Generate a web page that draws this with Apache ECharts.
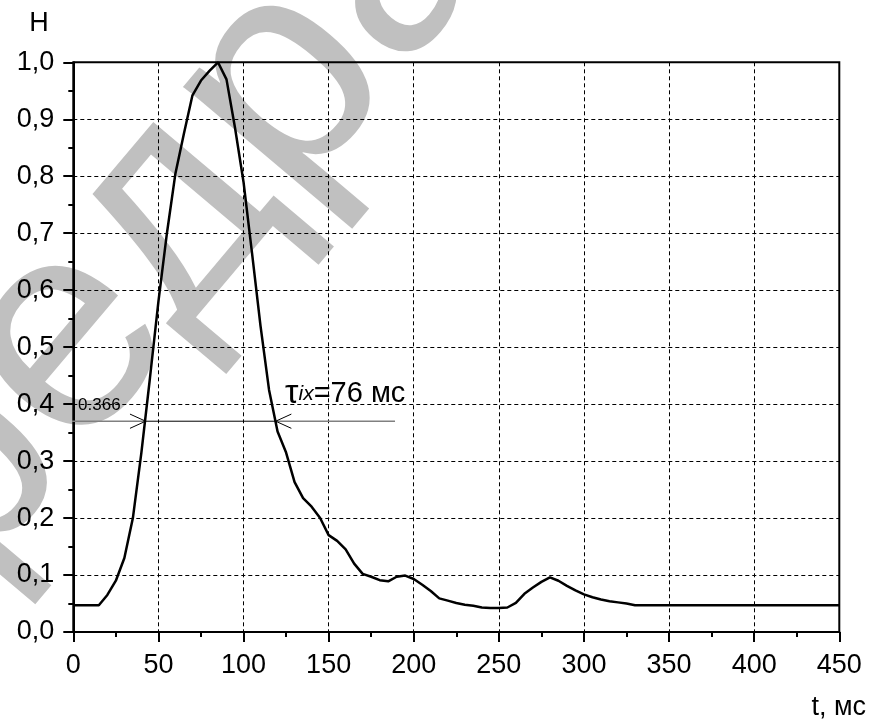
<!DOCTYPE html>
<html><head><meta charset="utf-8">
<script src="https://cdn.jsdelivr.net/npm/echarts@6/dist/echarts.min.js"></script>
<style>html,body{margin:0;padding:0;background:#fff}#c{width:872px;height:722px}</style>
</head><body><div id="c"></div>
<script>
// ---- data ----
const timeMs = [0,5,10,15,20,25,30,35,40,45,50,55,60,65,70,75,80,85,90,95,100,105,110,115,120,125,130,135,140,145,150,155,160,165,170,175,180,185,190,195,200,205,210,215,220,225,230,235,240,245,250,255,260,265,270,275,280,285,290,295,300,305,310,315,320,325,330,450];
const hValues = [0.047,0.047,0.047,0.047,0.065,0.09,0.13,0.20,0.315,0.445,0.58,0.70,0.805,0.875,0.942,0.968,0.985,1.0,0.97,0.885,0.79,0.665,0.537,0.425,0.352,0.315,0.263,0.235,0.22,0.20,0.17,0.16,0.145,0.12,0.102,0.097,0.091,0.089,0.097,0.099,0.093,0.083,0.072,0.059,0.055,0.051,0.048,0.046,0.043,0.042,0.042,0.043,0.051,0.067,0.078,0.088,0.096,0.09,0.081,0.073,0.066,0.061,0.057,0.054,0.052,0.05,0.047,0.047];
const xTickLabels = ['0','50','100','150','200','250','300','350','400','450'];
const yTickLabels = ['0,0','0,1','0,2','0,3','0,4','0,5','0,6','0,7','0,8','0,9','1,0'];
// annotation (width at level 0.366)
const levelLabel = '0.366';
const levelH = 0.37;
const crossT = [42.5, 118.9];
const levelLineT = [-6, 189];
const widthLabel = ['τ', 'ix', '=76 мс'];
const yAxisTitle = 'H';
const xAxisTitle = 't, мс';
const watermark = 'кафедра';

const FONT = '"Liberation Sans", Arial, sans-serif';
const chart = echarts.init(document.getElementById('c'), null, {renderer: 'canvas'});
const curve = timeMs.map((t, i) => [t, hValues[i]]);
const arrowDt = 9.2, arrowDh = 0.0125;

chart.setOption({
  animation: false,
  backgroundColor: '#fff',
  grid: {left: 73.3, right: 32.7, top: 62.3, bottom: 90, show: true, borderColor: '#000', borderWidth: 2, backgroundColor: 'transparent'},
  xAxis: {
    type: 'value', min: 0, max: 450, interval: 50,
    axisLine: {lineStyle: {color: '#000', width: 2}},
    axisTick: {length: 10, lineStyle: {color: '#000', width: 2}},
    minorTick: {show: true, splitNumber: 2, length: 5, lineStyle: {color: '#000', width: 2}},
    splitLine: {show: true, lineStyle: {color: '#000', width: 1, type: [4, 3]}},
    axisLabel: {fontSize: 27, fontFamily: FONT, color: '#000', margin: 20,
      formatter: v => xTickLabels[Math.round(v / 50)]}
  },
  yAxis: {
    type: 'value', min: 0, max: 1, interval: 0.1,
    axisLine: {show: true, lineStyle: {color: '#000', width: 2}},
    axisTick: {show: true, length: 10, lineStyle: {color: '#000', width: 2}},
    minorTick: {show: true, splitNumber: 2, length: 5, lineStyle: {color: '#000', width: 2}},
    splitLine: {show: true, lineStyle: {color: '#000', width: 1, type: [4, 3]}},
    axisLabel: {fontSize: 27, fontFamily: FONT, color: '#000', margin: 19,
      formatter: v => yTickLabels[Math.round(v * 10)]}
  },
  series: [
    {type: 'line', data: curve, symbol: 'none', lineStyle: {color: '#000', width: 2.5}, z: 5},
    {type: 'line', data: [[levelLineT[0], levelH], [crossT[0], levelH]], symbol: 'none', clip: false, lineStyle: {color: '#808080', width: 1.5}, z: 4},
    {type: 'line', data: [[crossT[0], levelH], [crossT[1], levelH]], symbol: 'none', clip: false, lineStyle: {color: '#000', width: 1}, z: 4},
    {type: 'line', data: [[crossT[1], levelH], [levelLineT[1], levelH]], symbol: 'none', clip: false, lineStyle: {color: '#808080', width: 1.5}, z: 4},
    {type: 'line', data: [[crossT[0] - arrowDt, levelH + arrowDh], [crossT[0], levelH], [crossT[0] - arrowDt, levelH - arrowDh]], symbol: 'none', clip: false, lineStyle: {color: '#000', width: 1}, z: 4},
    {type: 'line', data: [[crossT[1] + arrowDt, levelH + arrowDh], [crossT[1], levelH], [crossT[1] + arrowDt, levelH - arrowDh]], symbol: 'none', clip: false, lineStyle: {color: '#000', width: 1}, z: 4}
  ]
});

const p = (t, h) => chart.convertToPixel({gridIndex: 0}, [t, h]);
const lblPos = p(2.8, 0.3976);
const tauPos = p(124.4, 0.388);
chart.setOption({
  graphic: [
    {type: 'text', x: 50, y: 362, rotation: 0.87, z: -10, silent: true,
      style: {text: watermark, fontSize: 300, fontFamily: FONT, fill: '#c0c0c0', align: 'center', verticalAlign: 'middle'}},
    {type: 'text', x: 39, y: 24, z: 10,
      style: {text: yAxisTitle, fontSize: 27, fontFamily: FONT, fill: '#000', align: 'center', verticalAlign: 'middle'}},
    {type: 'text', x: 866, y: 708, z: 10,
      style: {text: xAxisTitle, fontSize: 27, fontFamily: FONT, fill: '#000', align: 'right', verticalAlign: 'middle'}},
    {type: 'text', x: lblPos[0], y: lblPos[1], z: 10,
      style: {text: levelLabel, fontSize: 17, fontFamily: FONT, fill: '#000', align: 'left', verticalAlign: 'middle'}},
    {type: 'text', x: tauPos[0], y: tauPos[1], z: 10,
      style: {text: '{a|' + widthLabel[0] + '}{b|' + widthLabel[1] + '}{c|' + widthLabel[2] + '}',
        align: 'left', verticalAlign: 'bottom', fill: '#000',
        rich: {
          a: {fontSize: 34, fontFamily: FONT, fill: '#000'},
          b: {fontSize: 21, fontFamily: FONT, fontStyle: 'italic', fill: '#000'},
          c: {fontSize: 29, fontFamily: FONT, fill: '#000'}
        }}}
  ]
});
</script>
</body></html>
